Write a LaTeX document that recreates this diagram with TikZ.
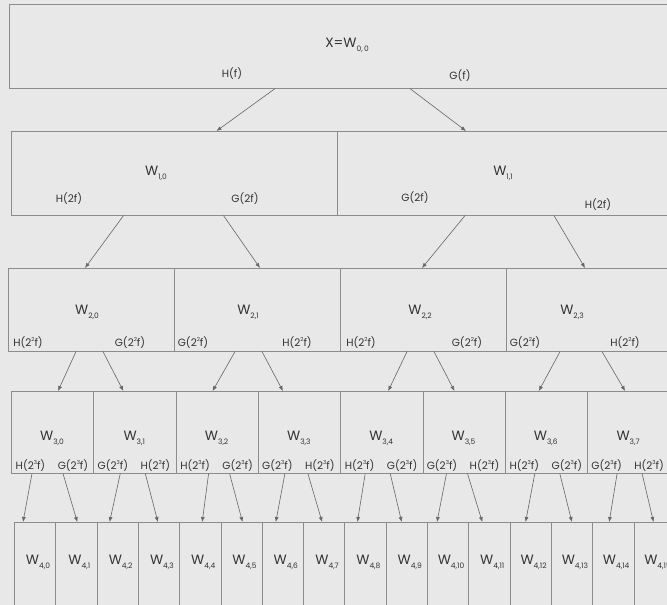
\documentclass[tikz,border=0pt]{standalone}
\usepackage{fontspec}
\setmainfont{Poppins}
\usetikzlibrary{arrows.meta}
\newcommand{\Wl}[1]{W\raisebox{-0.5ex}{\fontsize{7.5}{7.5}\selectfont #1}}
\newcommand{\pw}[1]{\raisebox{0.9ex}{\fontsize{5.5}{5.5}\selectfont #1}}

\begin{document}
\begin{tikzpicture}[x=1pt,y=-1pt,
    wbox/.style={draw=black!45, line width=0.6pt, inner sep=0pt, anchor=north west},
    arr/.style={draw=black!60, line width=0.6pt, -{Latex[length=5pt,width=4pt]}},
    wlab/.style={text=black!80, font=\fontsize{13.5}{13.5}\selectfont, inner sep=0pt},
    flab/.style={text=black!80, font=\fontsize{10.5}{10.5}\selectfont, inner sep=0pt}]
    \useasboundingbox (0,0) rectangle (667,605);
    \fill[black!9] (0,0) rectangle (667,605);
    \clip (0,0) rectangle (667,605);

    % boxes
    \node[wbox, minimum width=670pt, minimum height=84pt] (w00) at (9,4) {};
    \node[wbox, minimum width=326.5pt, minimum height=84pt] (w10) at (10.5,131) {};
    \node[wbox, minimum width=340pt, minimum height=84pt] (w11) at (337,131) {};
    \foreach \j in {0,...,3} {
            \node[wbox, minimum width=166pt, minimum height=83pt] (w2-\j) at (8+166*\j,268) {};
        }
    \foreach \j in {0,...,7} {
            \node[wbox, minimum width=82.3pt, minimum height=82pt] (w3-\j) at (11+82.3*\j,391) {};
        }
    \foreach \j in {0,...,15} {
            \node[wbox, minimum width=41.3pt, minimum height=100pt] (w4-\j) at (14+41.3*\j,522) {};
        }

    % arrows
    \draw[arr] ([xshift=266]w00.south west) -- ([xshift=206]w10.north west);
    \draw[arr] ([xshift=401]w00.south west) -- ([xshift=129]w11.north west);
    \foreach \p/\c/\s/\e in {w10/w2-0/113/77, w10/w2-1/213/86, w11/w2-2/128/82, w11/w2-3/217/79} {
            \draw[arr] ([xshift=\s]\p.south west) -- ([xshift=\e]\c.north west);
        }
    \foreach \j/\s/\e in {0/68/47, 1/95/30, 2/61/37, 3/88/25, 4/67/48, 5/94/32, 6/54/34, 7/96/38} {
            \pgfmathtruncatemacro\p{\j/2}
            \draw[arr] ([xshift=\s]w2-\p.south west) -- ([xshift=\e]w3-\j.north west);
        }
    \foreach \j/\s/\e in {0/21/9, 1/52/22, 2/27/13, 3/52/20, 4/33/23, 5/54/22, 6/27/14, 7/50/19,
            8/25/13, 9/50/16, 10/24/10, 11/45/14, 12/30/16, 13/55/21, 14/30/17, 15/55/20} {
            \pgfmathtruncatemacro\p{\j/2}
            \draw[arr] ([xshift=\s]w3-\p.south west) -- ([xshift=\e]w4-\j.north west);
        }

    % level 0 and 1 labels
    \node[wlab] (lw00) at (347,45) {X=\Wl{0,\,0}};
    \node[flab] (lh00) at (232,74) {H(f)};
    \node[flab] (lg00) at (460,76) {G(f)};
    \node[wlab] (lw10) at (156,173) {\Wl{1,0}};
    \node[wlab] (lw11) at (503,173) {\Wl{1,1}};
    \node[flab] (lh10) at (69,199) {H(2f)};
    \node[flab] (lg10) at (245,199) {G(2f)};
    \node[flab] (lg11) at (415,198) {G(2f)};
    \node[flab] (lh11) at (598,205) {H(2f)};

    % level 2 labels
    \foreach \j/\x in {0/87, 1/248, 2/420, 3/572} {
            \node[wlab] (lw2-\j) at (\x,312) {\Wl{2,\j}};
        }
    \foreach \n/\x/\t in {0/28/H, 1/130/G, 2/193/G, 3/297/H, 4/361/H, 5/467/G, 6/525/G, 7/625/H} {
            \node[flab] (lf2-\n) at (\x,343) {\t(2\pw{2}f)};
        }

    % level 3 labels
    \foreach \j/\a/\b in {0/H/G, 1/G/H, 2/H/G, 3/G/H, 4/H/G, 5/G/H, 6/H/G, 7/G/H} {
            \node[wlab] (lw3-\j) at (52+82.3*\j,438) {\Wl{3,\j}};
            \node[flab] (la3-\j) at (30.5+82.3*\j,466) {\a(2\pw{3}f)};
            \node[flab] (lb3-\j) at (73+82.3*\j,466) {\b(2\pw{3}f)};
        }

    % level 4 labels
    \foreach \j in {0,...,15} {
            \node[wlab] (lw4-\j) at (38+41.3*\j,562) {\Wl{4,\j}};
        }
\end{tikzpicture}
\end{document}
